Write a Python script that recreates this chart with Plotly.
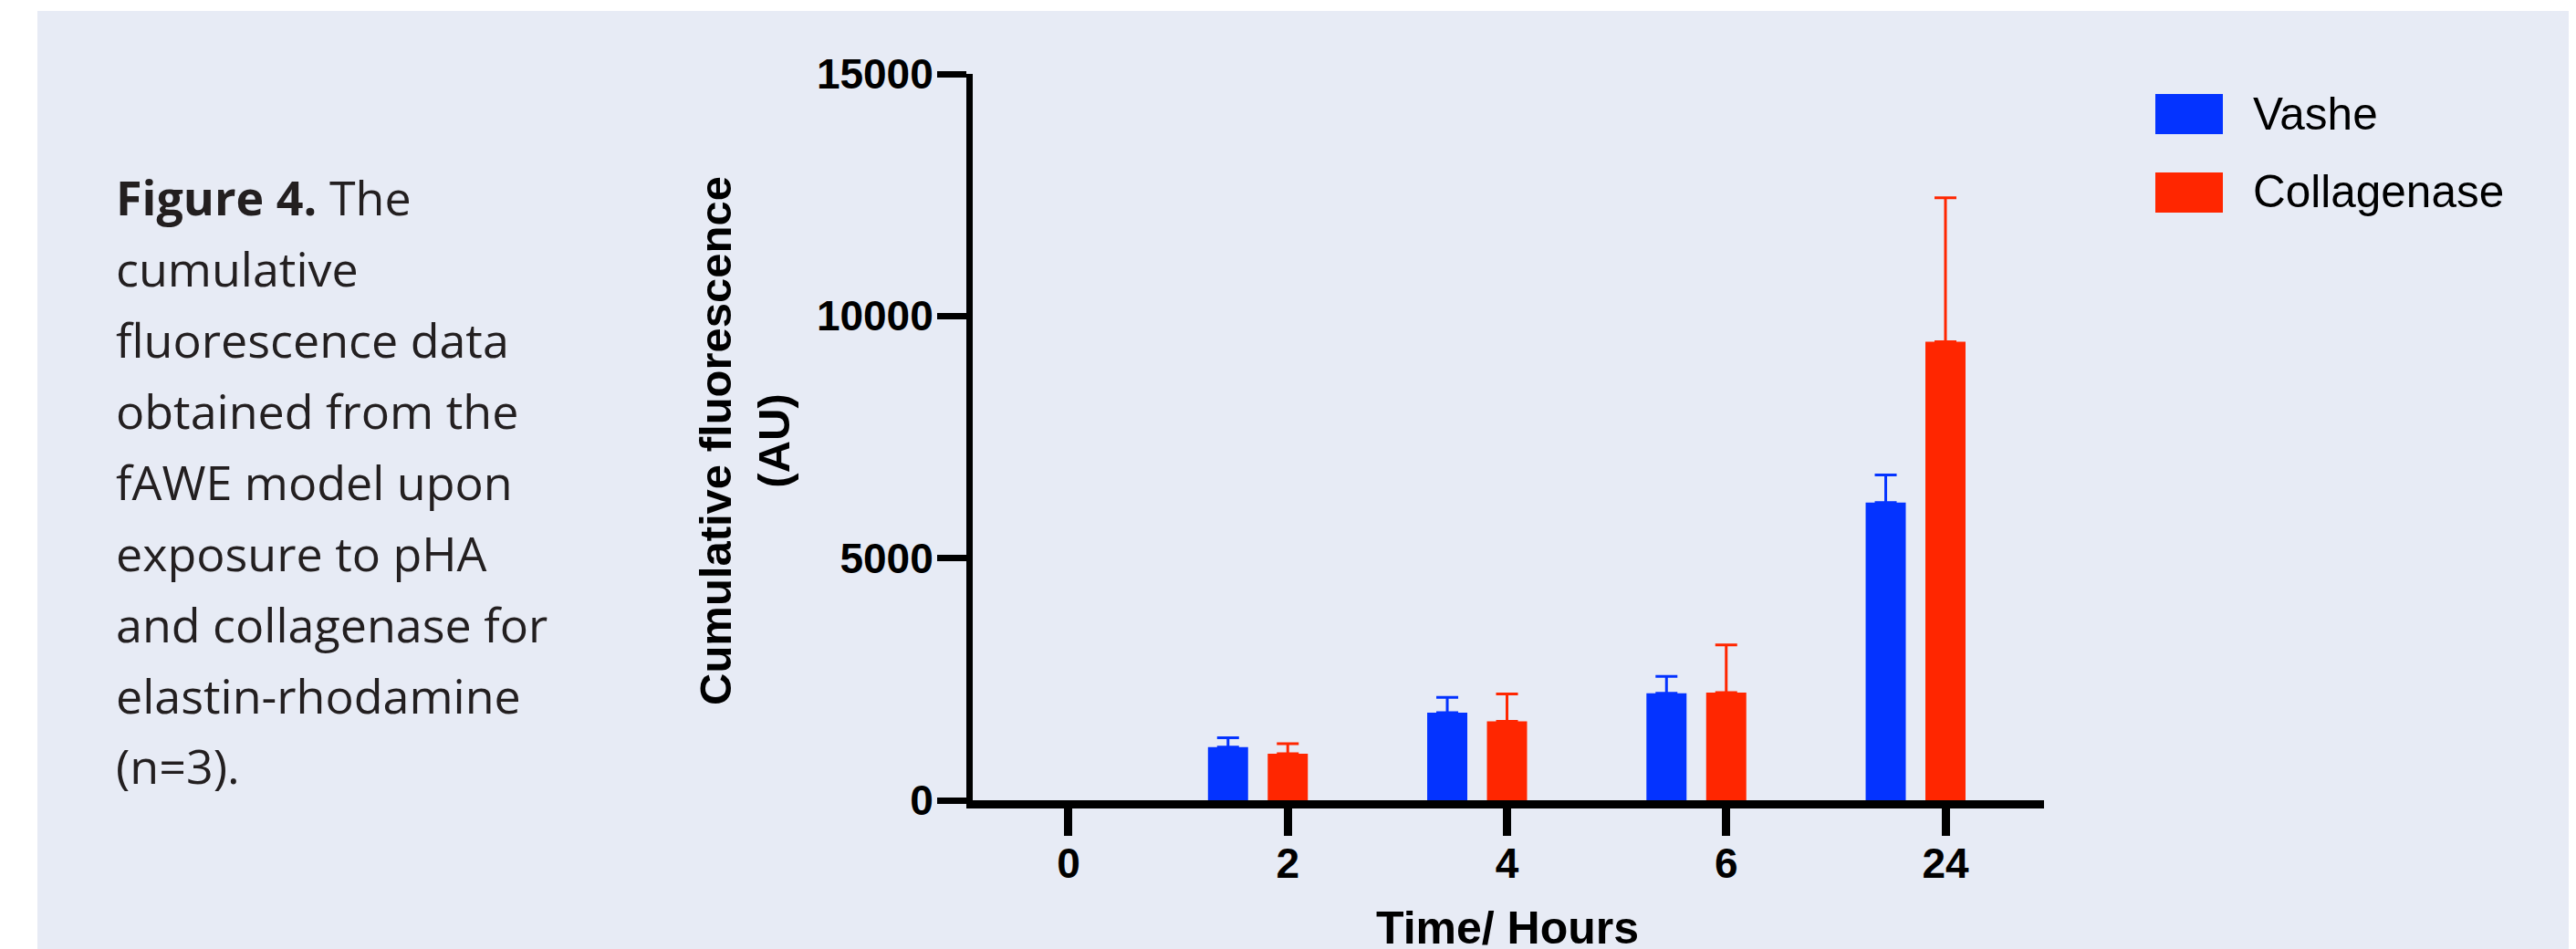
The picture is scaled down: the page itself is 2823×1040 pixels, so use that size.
import plotly.graph_objects as go

# ---- data ----
time_labels = ["0", "2", "4", "6", "24"]
vashe = [0, 1100, 1810, 2210, 6150]
vashe_err = [None, 190, 315, 350, 570]
collagenase = [0, 960, 1630, 2225, 9470]
collagenase_err = [None, 210, 565, 985, 2970]
y_ticks = [0, 5000, 10000, 15000]

caption_lines = [
    "<b>Figure 4.</b> The",
    "cumulative",
    "fluorescence data",
    "obtained from the",
    "fAWE model upon",
    "exposure to pHA",
    "and collagenase for",
    "elastin-rhodamine",
    "(n=3).",
]

BLUE = "#0433FF"
RED = "#FF2600"
BG = "#E7EBF5"
W, H = 2823, 1040
OFF = 8  # page body margin offset (screen px -> figure px)
L, R, T, B = 1058, 591, 73, 171
PW = W - L - R
PH = H - T - B


def px_x(sx):
    return (sx - OFF - L) / PW


def px_y(sy):
    return (H - B - (sy - OFF)) / PH


def upper(errs):
    # missing error -> "NaN" so plotly.js skips the error bar entirely
    return ["NaN" if e is None else e for e in errs]


def lower(errs):
    return ["NaN" if e is None else 0 for e in errs]


bar_w = 0.183
fig = go.Figure()
fig.add_trace(go.Bar(
    x=time_labels, y=vashe, name="Vashe",
    marker=dict(color=BLUE, line=dict(width=0)),
    width=bar_w, offset=-0.364,
    error_y=dict(type="data", array=upper(vashe_err), arrayminus=lower(vashe_err),
                 symmetric=False, color=BLUE, thickness=3, width=12),
    showlegend=False,
))
fig.add_trace(go.Bar(
    x=time_labels, y=collagenase, name="Collagenase",
    marker=dict(color=RED, line=dict(width=0)),
    width=bar_w, offset=-0.0915,
    error_y=dict(type="data", array=upper(collagenase_err), arrayminus=lower(collagenase_err),
                 symmetric=False, color=RED, thickness=3, width=12),
    showlegend=False,
))

tick_font = dict(family="Liberation Sans", size=46, color="black", weight="bold")

fig.update_layout(
    width=W, height=H,
    margin=dict(l=L, r=R, t=T, b=B, pad=0),
    paper_bgcolor="white",
    plot_bgcolor=BG,
    barmode="overlay",
    xaxis=dict(
        type="category", categoryorder="array", categoryarray=time_labels,
        range=[-0.437, 4.4495],
        showgrid=False, zeroline=False,
        showline=True, linecolor="black", linewidth=9,
        ticks="outside", ticklen=30, tickwidth=9, tickcolor="black",
        tickfont=tick_font, ticklabelstandoff=-9,
    ),
    yaxis=dict(
        range=[0, 15000], tickvals=y_ticks, tickformat="d",
        showgrid=False, zeroline=False,
        showline=True, linecolor="black", linewidth=7,
        ticks="outside", ticklen=32, tickwidth=7, tickcolor="black",
        tickfont=tick_font, ticklabelstandoff=-5,
    ),
)

shapes = [
    dict(type="rect", xref="paper", yref="paper", layer="below",
         x0=px_x(41), x1=px_x(W + 20), y0=px_y(H + 20), y1=px_y(12),
         fillcolor=BG, line=dict(width=0)),
    # legend swatches
    dict(type="rect", xref="paper", yref="paper",
         x0=px_x(2362), x1=px_x(2436), y0=px_y(147), y1=px_y(103),
         fillcolor=BLUE, line=dict(width=0)),
    dict(type="rect", xref="paper", yref="paper",
         x0=px_x(2362), x1=px_x(2436), y0=px_y(233), y1=px_y(189),
         fillcolor=RED, line=dict(width=0)),
]

annotations = []
# legend labels
for txt, yc in [("Vashe", 124), ("Collagenase", 209)]:
    annotations.append(dict(
        text=txt, xref="paper", yref="paper", x=px_x(2467), y=px_y(yc),
        xanchor="left", yanchor="middle", showarrow=False,
        font=dict(family="Liberation Sans", size=49.5, color="black"),
    ))

# y axis title
annotations.append(dict(
    text="Cumulative fluorescence<br>(AU)", xref="paper", yref="paper",
    x=px_x(816), y=px_y(483), xanchor="center", yanchor="middle",
    textangle=-90, showarrow=False, align="center",
    font=dict(family="Liberation Sans", size=49, color="black", weight="bold"),
))
# x axis title
annotations.append(dict(
    text="Time/ Hours", xref="paper", yref="paper",
    x=px_x(1652), y=px_y(1034 - 0.35 * 50), xanchor="center", yanchor="middle",
    showarrow=False,
    font=dict(family="Liberation Sans", size=50, color="black", weight="bold"),
))

# caption
cap_size = 52
for i, line in enumerate(caption_lines):
    baseline = 236 + 77.9 * i
    annotations.append(dict(
        text=line, xref="paper", yref="paper",
        x=px_x(125), y=px_y(baseline - 0.39 * cap_size),
        xanchor="left", yanchor="middle", showarrow=False, align="left",
        font=dict(family="Open Sans", size=cap_size, color="#231F20"),
    ))

fig.update_layout(shapes=shapes, annotations=annotations)
fig.write_html("out.html")
